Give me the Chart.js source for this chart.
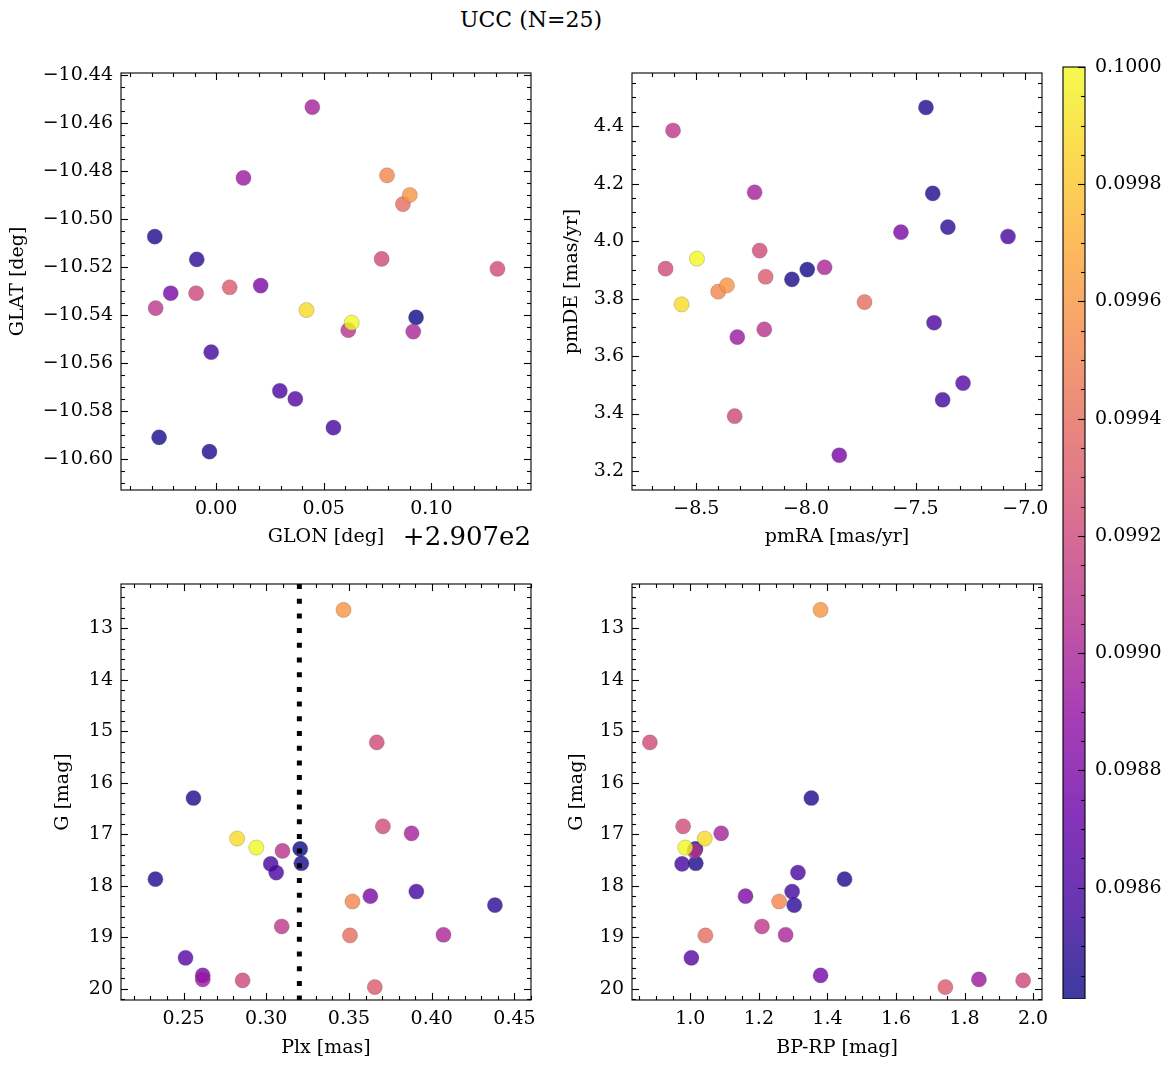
<!DOCTYPE html>
<html>
<head>
<meta charset="utf-8">
<script src="https://cdn.jsdelivr.net/npm/chart.js@4.4.1/dist/chart.umd.min.js"></script>
<style>
  html, body { margin: 0; padding: 0; background: #fff; }
  body { width: 1173px; height: 1067px; position: relative; overflow: hidden; font-family: 'DejaVu Serif', serif; }
  .box { position: absolute; }
  #title { position: absolute; left: 0; width: 1062px; top: 7px; text-align: center; font-size: 22px; color: #000; }
</style>
</head>
<body>
<div id="title">UCC (N=25)</div>
<div class="box" id="b1" style="left:0px;top:45px;width:551px;height:525px"><canvas id="c1"></canvas></div>
<div class="box" id="b2" style="left:545px;top:45px;width:517px;height:525px"><canvas id="c2"></canvas></div>
<div class="box" id="b3" style="left:0px;top:556px;width:551px;height:511px"><canvas id="c3"></canvas></div>
<div class="box" id="b4" style="left:545px;top:556px;width:517px;height:511px"><canvas id="c4"></canvas></div>
<div class="box" id="b5" style="left:1050px;top:40px;width:123px;height:959px"><canvas id="c5"></canvas></div>
<script>
// ── datos: 25 miembros (mismo orden en todos los arrays) ─────────────
const prob = [0.09960, 0.09921, 0.09845, 0.09922, 0.09898, 0.09988, 0.10000, 0.09908, 0.09841, 0.09844,
              0.09858, 0.09860, 0.09846, 0.09880, 0.09857, 0.09953, 0.09850, 0.09910, 0.09940, 0.09900,
              0.09864, 0.09878, 0.09893, 0.09920, 0.09930];
// GLON relativo a +2.907e2
const glon = [0.0900, 0.0769, -0.0285, 0.1307, 0.0447, 0.0420, 0.0630, 0.0614, 0.0929, -0.0265,
              -0.0023, 0.0296, -0.0031, 0.0207, 0.0545, 0.0794, -0.0090, -0.0281, 0.0868, 0.0916,
              0.0368, -0.0211, 0.0127, -0.0093, 0.0063];
const glat = [-10.4899, -10.5166, -10.5073, -10.5207, -10.4532, -10.5379, -10.5432, -10.5463, -10.5410, -10.5910,
              -10.5555, -10.5716, -10.5970, -10.5277, -10.5870, -10.4817, -10.5168, -10.5371, -10.4937, -10.5469,
              -10.5750, -10.5309, -10.4828, -10.5309, -10.5284];
const pmra = [-8.360, -8.211, -7.453, -8.640, -8.234, -8.567, -8.497, -8.190, -7.994, -8.064,
              -7.079, -7.416, -7.422, -7.567, -7.377, -8.400, -7.353, -8.606, -7.733, -7.915,
              -7.284, -7.848, -8.313, -8.325, -8.184];
const pmde = [3.846, 3.967, 4.465, 3.904, 4.170, 3.780, 3.939, 3.693, 3.901, 3.867,
              4.016, 3.716, 4.166, 4.031, 3.448, 3.824, 4.049, 4.385, 3.788, 3.909,
              3.506, 3.255, 3.666, 3.391, 3.876];
const plx  = [0.3467, 0.3668, 0.2560, 0.3705, 0.3878, 0.2824, 0.2940, 0.3098, 0.3205, 0.3212,
              0.3027, 0.3060, 0.2330, 0.3629, 0.3907, 0.3521, 0.4382, 0.3093, 0.3506, 0.4071,
              0.2512, 0.2616, 0.2616, 0.2857, 0.3656];
const gmag = [12.644, 15.217, 16.297, 16.846, 16.982, 17.085, 17.260, 17.325, 17.286, 17.564,
              17.577, 17.745, 17.874, 18.204, 18.113, 18.307, 18.378, 18.792, 18.966, 18.953,
              19.400, 19.742, 19.820, 19.839, 19.968];
const bprp = [1.380, 0.882, 1.353, 0.979, 1.090, 1.042, 0.985, 1.012, 1.015, 1.016,
              0.976, 1.314, 1.450, 1.161, 1.297, 1.259, 1.303, 1.209, 1.044, 1.278,
              1.003, 1.380, 1.842, 1.971, 1.744];
const plxRef = 0.32;
const glonOffsetText = '+2.907e2';

// ticks
const glonTicks = [0.00, 0.05, 0.10];
const glatTicks = [-10.60, -10.58, -10.56, -10.54, -10.52, -10.50, -10.48, -10.46, -10.44];
const pmraTicks = [-8.5, -8.0, -7.5, -7.0];
const pmdeTicks = [3.2, 3.4, 3.6, 3.8, 4.0, 4.2, 4.4];
const plxTicks  = [0.25, 0.30, 0.35, 0.40, 0.45];
const gTicks    = [13, 14, 15, 16, 17, 18, 19, 20];
const bprpTicks = [1.0, 1.2, 1.4, 1.6, 1.8, 2.0];
const cbTicks   = [0.0986, 0.0988, 0.0990, 0.0992, 0.0994, 0.0996, 0.0998, 0.1000];

// ── estilo ───────────────────────────────────────────────────────────
const FONT = "'DejaVu Serif'";
const TICK_SIZE = 19;
const LABEL_SIZE = 19;
const ALPHA = 0.8;
const PLASMA = [[13,8,135],[65,4,157],[106,0,168],[143,13,164],[177,42,144],[204,71,120],
                [225,100,98],[242,132,75],[252,166,54],[252,206,37],[240,249,33]];
const VMIN = Math.min(...prob), VMAX = Math.max(...prob);

function plasma(t) {
  t = Math.max(0, Math.min(1, t)) * (PLASMA.length - 1);
  const i = Math.min(Math.floor(t), PLASMA.length - 2), f = t - i;
  const a = PLASMA[i], b = PLASMA[i + 1];
  return a.map((v, k) => Math.round(v + (b[k] - v) * f));
}
const cmap = p => `rgba(${plasma((p - VMIN) / (VMAX - VMIN)).join(',')},${ALPHA})`;
const fmt = (v, d) => v.toFixed(d).replace('-', '\u2212');

// puntos ordenados por probabilidad (los más probables encima)
const order = prob.map((_, i) => i).sort((a, b) => prob[a] - prob[b]);
function dataset(xs, ys) {
  return {
    data: order.map(i => ({ x: xs[i], y: ys[i] })),
    backgroundColor: order.map(i => cmap(prob[i])),
    borderColor: 'rgba(90,90,90,0.45)',
    borderWidth: 0.6,
    pointRadius: 7.6,
    pointHoverRadius: 7.6
  };
}

// ── plugin: marco + ticks hacia dentro en los cuatro lados ───────────
function minorList(min, max, step, major) {
  const out = [];
  for (let k = Math.ceil(min / step - 1e-9); k * step <= max + 1e-12; k++) {
    const v = k * step;
    if (!major.some(m => Math.abs(m - v) < step * 1e-3)) out.push(v);
  }
  return out;
}
const frameTicks = {
  id: 'frameTicks',
  afterDraw(chart, args, o) {
    const { ctx, chartArea: a, scales } = chart;
    ctx.save();
    ctx.strokeStyle = '#000';
    ctx.lineWidth = 1.1;
    const seg = (x1, y1, x2, y2) => { ctx.beginPath(); ctx.moveTo(x1, y1); ctx.lineTo(x2, y2); ctx.stroke(); };
    const draw = (axis, key, sides) => {
      if (!axis) return;
      const s = scales[key];
      const minors = minorList(s.min, s.max, axis.minor, axis.major);
      [[axis.major, 7], [minors, 4]].forEach(([vals, len]) => {
        vals.forEach(v => {
          const p = Math.round(s.getPixelForValue(v)) + 0.5;
          if (key === 'x') {
            seg(p, a.bottom, p, a.bottom - len);
            seg(p, a.top, p, a.top + len);
          } else {
            if (sides.includes('left')) seg(a.left, p, a.left + len, p);
            if (sides.includes('right')) seg(a.right, p, a.right - len, p);
          }
        });
      });
    };
    draw(o.x, 'x', ['top', 'bottom']);
    draw(o.y, 'y', o.ySides || ['left', 'right']);
    ctx.strokeRect(a.left, a.top, a.right - a.left, a.bottom - a.top);
    ctx.restore();
  }
};

// línea punteada vertical (Plx de referencia)
const refLine = {
  id: 'refLine',
  afterDatasetsDraw(chart, args, o) {
    if (o.value === undefined) return;
    const { ctx, chartArea: a, scales } = chart;
    const px = scales.x.getPixelForValue(o.value);
    ctx.save();
    ctx.strokeStyle = '#000';
    ctx.lineWidth = 5;
    ctx.setLineDash([5, 9.7]);
    ctx.beginPath(); ctx.moveTo(px, a.top); ctx.lineTo(px, a.bottom); ctx.stroke();
    ctx.restore();
  }
};

// texto de offset del eje x
const offsetText = {
  id: 'offsetText',
  afterDraw(chart, args, o) {
    if (!o.text) return;
    const { ctx, chartArea: a } = chart;
    ctx.save();
    ctx.fillStyle = '#000';
    ctx.font = `26px ${FONT}`;
    ctx.textAlign = 'right';
    ctx.textBaseline = 'middle';
    ctx.fillText(o.text, a.right, a.bottom + 48);
    ctx.restore();
  }
};

function axis(min, max, ticks, dec, title, titlePad, size, extra) {
  return Object.assign({
    type: 'linear', min, max,
    grid: { display: false, drawTicks: false },
    border: { display: false },
    afterBuildTicks: s => { s.ticks = ticks.map(v => ({ value: v })); },
    ticks: {
      autoSkip: false, maxRotation: 0, minRotation: 0, padding: 8, color: '#000',
      font: { family: FONT, size: TICK_SIZE }, callback: v => fmt(v, dec)
    },
    title: {
      display: !!title, text: title, color: '#000',
      font: { family: FONT, size: LABEL_SIZE }, padding: { top: titlePad, bottom: titlePad }
    },
    afterFit: s => { if (s.isHorizontal()) s.height = size; else s.width = size; }
  }, extra || {});
}

function panel(id, ds, xAxis, yAxis, top, right, plugOpts) {
  return new Chart(document.getElementById(id), {
    type: 'scatter',
    data: { datasets: [ds] },
    options: {
      responsive: true, maintainAspectRatio: false, animation: false, events: [],
      layout: { padding: { top, right, left: 0, bottom: 0 } },
      plugins: Object.assign({ legend: { display: false }, tooltip: { enabled: false } }, plugOpts),
      scales: { x: xAxis, y: yAxis }
    },
    plugins: [frameTicks, refLine, offsetText]
  });
}

// ── paneles ──────────────────────────────────────────────────────────
panel('c1', dataset(glon, glat),
  axis(-0.0442, 0.1463, glonTicks, 2, 'GLON [deg]', 21.6, 80),
  axis(-10.613, -10.4390, glatTicks, 2, 'GLAT [deg]', 6.6, 121),
  28, 20,
  { frameTicks: { x: { major: glonTicks, minor: 0.01 }, y: { major: glatTicks, minor: 0.005 } },
    offsetText: { text: glonOffsetText } });

panel('c2', dataset(pmra, pmde),
  axis(-8.793, -6.924, pmraTicks, 1, 'pmRA [mas/yr]', 21.6, 80),
  axis(3.134, 4.585, pmdeTicks, 1, 'pmDE [mas/yr]', 15.6, 87),
  28, 20,
  { frameTicks: { x: { major: pmraTicks, minor: 0.1 }, y: { major: pmdeTicks, minor: 0.05 } } });

panel('c3', dataset(plx, gmag),
  axis(0.2122, 0.4600, plxTicks, 2, 'Plx [mas]', 7.6, 67),
  axis(12.14, 20.22, gTicks, 0, 'G [mag]', 51.6, 121, { reverse: true }),
  28, 20,
  { frameTicks: { x: { major: plxTicks, minor: 0.01 }, y: { major: gTicks, minor: 0.2 } },
    refLine: { value: plxRef } });

panel('c4', dataset(bprp, gmag),
  axis(0.8298, 2.026, bprpTicks, 1, 'BP-RP [mag]', 7.6, 67),
  axis(12.14, 20.22, gTicks, 0, 'G [mag]', 20.6, 87, { reverse: true }),
  28, 20,
  { frameTicks: { x: { major: bprpTicks, minor: 0.05 }, y: { major: gTicks, minor: 0.2 } } });

// ── barra de color ───────────────────────────────────────────────────
const cbGradient = {
  id: 'cbGradient',
  beforeDatasetsDraw(chart) {
    const { ctx, chartArea: a } = chart;
    const g = ctx.createLinearGradient(0, a.bottom, 0, a.top);
    PLASMA.forEach((c, i) => g.addColorStop(i / (PLASMA.length - 1), `rgba(${c.join(',')},${ALPHA})`));
    ctx.save();
    ctx.fillStyle = g;
    ctx.fillRect(a.left, a.top, a.right - a.left, a.bottom - a.top);
    ctx.restore();
  }
};
// el eje reserva medio rótulo abajo aunque no haya tick ahí: se compensa
const cbFix = {
  id: 'cbFix',
  afterLayout(chart) {
    const a = chart.chartArea, want = chart.height;
    if (Math.abs(a.bottom - want) > 0.5) {
      const s = chart.scales.y;
      a.bottom = want; a.height = a.bottom - a.top;
      s.bottom = want; s.height = want - s.top;
      s.configure();
    }
  }
};
new Chart(document.getElementById('c5'), {
  type: 'scatter',
  data: { datasets: [{ data: [] }] },
  options: {
    responsive: true, maintainAspectRatio: false, animation: false, events: [],
    layout: { padding: { top: 27, left: 13, right: 0, bottom: 0 } },
    plugins: {
      legend: { display: false }, tooltip: { enabled: false },
      frameTicks: { y: { major: cbTicks, minor: 0.00005 }, ySides: ['right'] }
    },
    scales: {
      x: { display: false, min: 0, max: 1 },
      y: axis(VMIN, VMAX, cbTicks, 4, '', 0, 88, { position: 'right', ticks: {
        autoSkip: false, padding: 10, color: '#000',
        font: { family: FONT, size: TICK_SIZE }, callback: v => fmt(v, 4) } })
    }
  },
  plugins: [cbFix, cbGradient, frameTicks]
});
</script>
</body>
</html>
